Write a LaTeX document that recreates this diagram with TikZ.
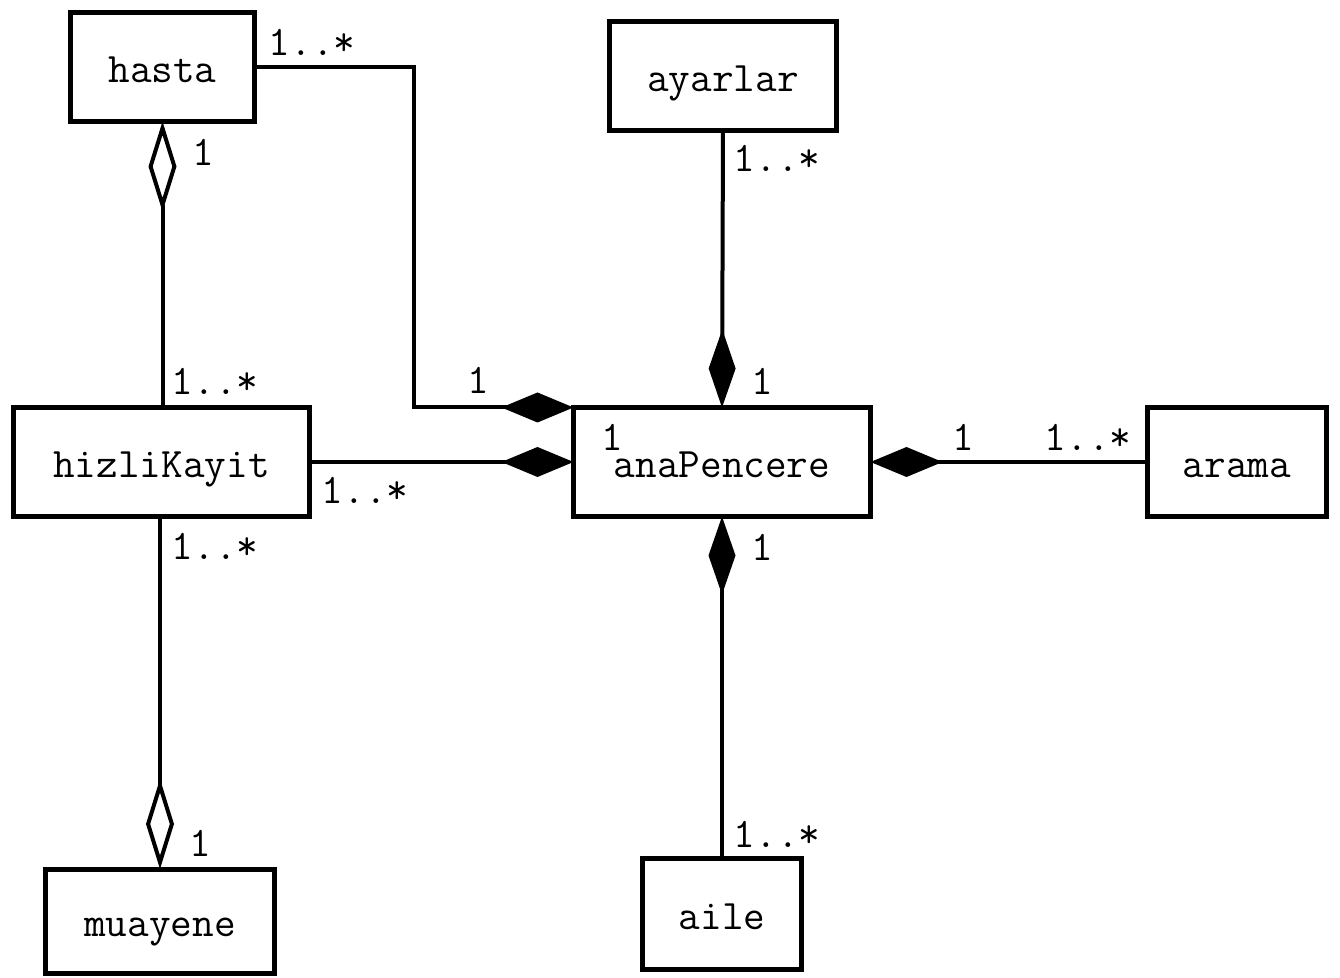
\documentclass[tikz,border=0pt]{standalone}
\usepackage{fontspec}
\usetikzlibrary{arrows.meta}
\begin{document}
\begin{tikzpicture}[x=0.5pt,y=-0.5pt,
  box/.style={draw,line width=2.5pt,outer sep=0pt,inner sep=0pt,text height=15.5pt,text depth=0pt,font=\fontsize{21}{24}\selectfont\ttfamily},
  lab/.style={inner sep=0pt,font=\fontsize{21}{24}\selectfont\ttfamily},
  conn/.style={line width=2pt},
  comp/.style={conn,-{Diamond[length=36pt,width=15pt]}},
  compv/.style={conn,-{Diamond[length=39pt,width=13.5pt]}},
  aggr/.style={conn,-{Diamond[open,length=45pt,width=14pt]}}]
\useasboundingbox (0,0) rectangle (1340,978);
% classes
\node[box,minimum width=92pt,minimum height=54.5pt] (hasta) at (162.5,67) {hasta};
\node[box,minimum width=113.5pt,minimum height=54.5pt] (ayarlar) at (723,76) {ayarlar};
\node[box,minimum width=148pt,minimum height=54.5pt] (hizli) at (161.5,462) {hizliKayit};
\node[box,minimum width=148.5pt,minimum height=54.5pt] (ana) at (722,462) {anaPencere};
\node[box,minimum width=89.5pt,minimum height=54.5pt] (arama) at (1237,462) {arama};
\node[box,minimum width=114.5pt,minimum height=52pt] (muayene) at (160,921) {muayene};
\node[box,minimum width=79.5pt,minimum height=55.5pt] (aile) at (722,914) {aile};
% connectors
\coordinate (bend1) at (414,67);
\draw[comp] (hasta.east) -- (bend1) -- (bend1 |- ana.north west) -- (ana.north west);
\draw[comp] (hizli.east) -- (ana.west);
\draw[compv] (ayarlar.south) -- (ana.north);
\draw[comp] (arama.west) -- (ana.east);
\draw[compv] (aile.north) -- (ana.south);
\draw[aggr] (hizli.north -| hasta.south) -- (hasta.south);
\draw[aggr] (hizli.south -| muayene.north) -- (muayene.north);
% multiplicities
\node[lab] (l1) at (312,42) {1..*};
\node[lab] (l2) at (203,152) {1};
\node[lab] (l3) at (215,381) {1..*};
\node[lab] (l4) at (478,380) {1};
\node[lab] (l5) at (612,437) {1};
\node[lab] (l6) at (365,490) {1..*};
\node[lab] (l7) at (777,158) {1..*};
\node[lab] (l8) at (762,381) {1};
\node[lab] (l9) at (963,437) {1};
\node[lab] (l10) at (1088,437) {1..*};
\node[lab] (l11) at (762,547) {1};
\node[lab] (l12) at (215,546) {1..*};
\node[lab] (l13) at (200,843) {1};
\node[lab] (l14) at (777,834) {1..*};
\end{tikzpicture}
\end{document}
